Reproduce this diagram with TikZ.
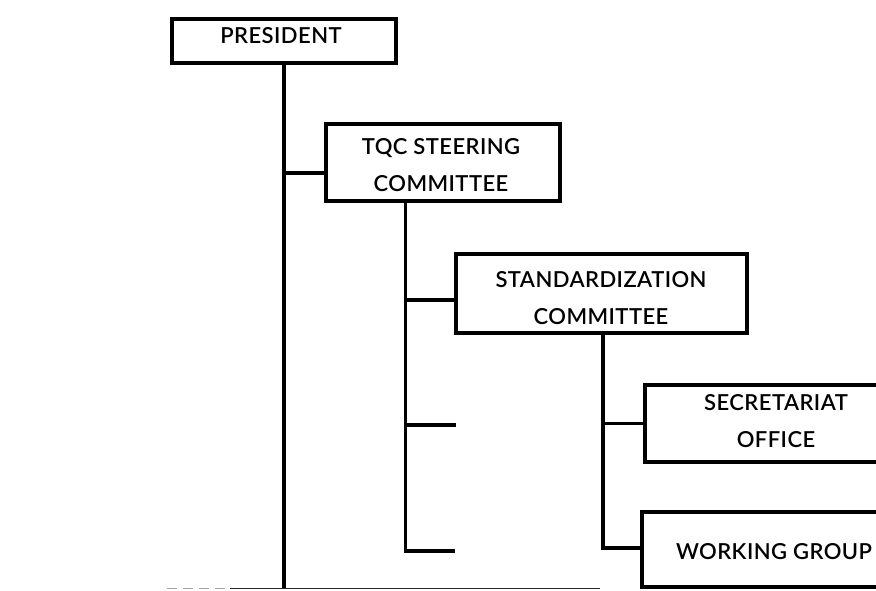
\documentclass[tikz,border=0pt]{standalone}
\usepackage{fontspec}
\setmainfont[LetterSpace=2,UprightFont={* Semibold},BoldFont={* Bold}]{Lato}
\begin{document}
\begin{tikzpicture}[x=1pt,y=-1pt,
  unitbox/.style={draw, line width=3.1pt, inner sep=0pt},
  caption/.style={align=center, inner sep=0pt, font=\fontsize{22}{37}\selectfont},
  link/.style={line width=3.1pt},
  baseline rule/.style={line width=1.6pt, black!85}]
\useasboundingbox (0,0) rectangle (876,590);
\clip (0,0) rectangle (876,590);

% boxes of the organisation chart (the two lowest ones run off the right edge)
\node[unitbox, minimum width=224pt, minimum height=44pt] (pres) at (284,41) {};
\node[unitbox, minimum width=234pt, minimum height=77pt] (tqc)  at (443,162.5) {};
\node[unitbox, minimum width=291pt, minimum height=79pt] (std)  at (601.5,293.5) {};
\node[unitbox, minimum width=260pt, minimum height=77pt] (sec)  at (775,423.5) {};
\node[unitbox, minimum width=263pt, minimum height=75pt] (wg)   at (773.5,549.5) {};

% captions
\node[caption] (presT) at (281,36)  {PRESIDENT};
\node[caption] (tqcT)  at (441,165) {TQC STEERING\\COMMITTEE};
\node[caption] (stdT)  at (601,298) {STANDARDIZATION\\COMMITTEE};
\node[caption] (secT)  at (776,421.5) {SECRETARIAT\\OFFICE};
\node[caption] (wgT)   at (774,552) {WORKING GROUP};

% free ends of the lines
\coordinate (base)  at (283,588.5);
\coordinate (baseR) at (600,588.5);
\coordinate (baseL) at (230,588.5);
\coordinate (faint) at (167,588.5);
\coordinate (stubA) at (456,425);
\coordinate (stubB) at (455,551);

% president trunk
\draw[link] (pres.south) -- (pres.south |- base);
\draw[link] ([yshift=-10.5pt]pres.south |- tqc.west) -- ([yshift=-10.5pt]tqc.west);

% steering committee trunk
\coordinate (tqcDown) at ([xshift=81pt]tqc.south west);
\draw[link] (tqcDown) -- (tqcDown |- stubB) -- (stubB);
\draw[link] ([yshift=-6.5pt]tqcDown |- std.west) -- ([yshift=-6.5pt]std.west);
\draw[link] (tqcDown |- stubA) -- (stubA);

% standardization committee trunk
\coordinate (stdDown) at ([xshift=1.5pt]std.south);
\draw[link] (stdDown) -- ([yshift=1.5pt]stdDown |- wg.west) -- ([yshift=1.5pt]wg.west);
\draw[link] (stdDown |- sec.west) -- (sec.west);

% rule along the bottom
\draw[baseline rule] (baseL) -- (baseR);
\draw[line width=1.2pt, black!35, dash pattern=on 10pt off 6pt] (faint) -- (baseL);
\end{tikzpicture}
\end{document}
